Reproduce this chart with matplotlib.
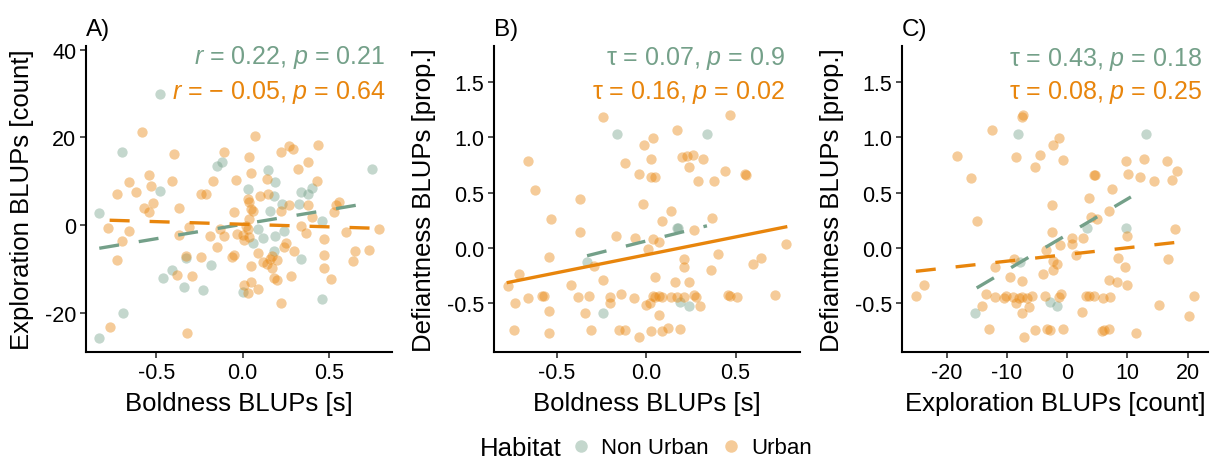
import numpy as np
import matplotlib
matplotlib.use("Agg")
import matplotlib.pyplot as plt
from matplotlib.lines import Line2D

plt.rcParams["font.family"] = ["Liberation Sans", "DejaVu Sans"]
plt.rcParams["mathtext.fontset"] = "custom"
plt.rcParams["mathtext.rm"] = "Liberation Sans"
plt.rcParams["mathtext.it"] = "Liberation Sans:italic"
plt.rcParams["axes.unicode_minus"] = False

GREEN = "#74A089"
ORANGE = "#E8850C"

# --- Panel A: boldness vs exploration ---
a_non_x = [-0.48, -0.70, -0.83, -0.48, -0.12, -0.15, 0.15, 0.03, 0.19, 0.18, 0.16, 0.23,
           0.09, 0.06, 0.19, 0.12, 0.24, 0.18, 0.34, 0.38, 0.40, 0.33, 0.46, 0.34, 0.75,
           0.46, -0.33, -0.41, -0.46, -0.34, -0.23, -0.18, 0.00, -0.69, -0.83]
a_non_y = [29.9, 16.6, 2.7, 7.7, 14.3, 13.4, 12.6, 8.2, 9.9, 6.7, 3.3, 4.8,
           -0.8, -4.0, -2.6, -3.0, -1.3, -5.9, 7.6, 7.1, 8.4, 4.8, 1.0, -7.8, 12.8,
           -16.8, -7.6, -10.2, -12.0, -14.1, -14.8, -9.1, -15.2, -20.0, -25.7]
a_urb_x = [-0.58, -0.40, -0.11, 0.07, 0.04, 0.05, 0.22, 0.27, 0.29, 0.38, 0.44, 0.32, 0.43,
           -0.04, -0.17, 0.14, -0.54, -0.66, -0.53, -0.41, -0.73, -0.62, -0.24, -0.21, 0.03,
           0.04, 0.05, 0.06, 0.10, 0.15, -0.52, -0.57, -0.54, -0.37, -0.05, 0.22, 0.27, 0.38,
           0.54, 0.56, 0.53, 0.40, 0.34, 0.04, 0.02, 0.03, 0.04, -0.13, -0.11, -0.19, -0.31,
           -0.37, -0.03, 0.00, 0.01, -0.15, 0.37, 0.47, 0.60, 0.79, -0.78, -0.66, -0.70,
           -0.73, -0.33, -0.24, -0.05, -0.06, 0.09, 0.17, 0.16, 0.14, 0.12, 0.20, 0.25, 0.24,
           0.30, 0.47, 0.47, 0.51, 0.65, 0.73, 0.64, 0.05, 0.17, 0.18, 0.20, 0.28, -0.38,
           -0.29, 0.05, 0.01, 0.03, 0.09, 0.22, -0.77, -0.32]
a_urb_y = [21.2, 16.2, 16.6, 20.3, 15.5, 12.0, 16.8, 18.0, 17.4, 14.5, 18.3, 12.8, 10.1,
           10.4, 10.1, 10.5, 11.5, 9.9, 9.0, 10.0, 7.1, 7.6, 7.2, 7.2, 5.9,
           5.2, 3.7, 3.3, 6.7, 7.1, 5.0, 3.9, 3.0, 4.0, 2.9, 3.3, 4.6, 4.6,
           4.6, 5.2, 3.0, 1.8, -0.2, 1.4, -0.2, -0.9, -2.8, -0.9, -2.4, -2.6, -0.5,
           -2.2, -2.1, -2.3, -3.4, -5.0, -1.9, -3.2, -1.5, -0.9, -0.7, -1.3, -3.6,
           -8.0, -7.0, -7.2, -6.8, -7.2, -6.4, -7.0, -7.8, -8.8, -8.5, -8.0, -4.0, -5.1,
           -6.0, -6.8, -9.9, -12.3, -5.9, -5.7, -8.3, -9.3, -9.9, -12.0, -12.5, -11.7, -11.4,
           -11.6, -13.0, -13.7, -15.6, -14.6, -17.9, -23.2, -24.7]

# --- Panel B: boldness vs defiantness ---
b_non_x = [-0.16, 0.34, 0.17, 0.18, -0.33, -0.24, 0.19, 0.24]
b_non_y = [1.03, 1.03, 0.18, 0.18, -0.13, -0.59, -0.49, -0.52]
b_urb_x = [-0.24, 0.47, 0.17, 0.04, -0.01, -0.66, -0.12, 0.03, 0.20, 0.23, 0.26, 0.24, 0.32,
           -0.04, 0.03, 0.05, 0.29, 0.38, 0.44, 0.55, 0.56, -0.62, -0.37, -0.02, 0.14, 0.09,
           0.37, -0.53, -0.37, -0.17, -0.06, 0.04, 0.07, 0.01, 0.27, -0.54, -0.29, -0.71,
           0.21, 0.21, 0.40, 0.36, 0.64, 0.60, 0.78, -0.77, -0.42, -0.24, 0.05, 0.16, 0.24,
           -0.73, -0.66, -0.58, -0.57, -0.38, -0.32, -0.20, -0.14, -0.07, -0.20, 0.00, 0.02,
           0.04, 0.05, 0.07, 0.09, 0.14, 0.17, 0.21, 0.27, 0.28, 0.30, 0.46, 0.47, 0.51, 0.72,
           -0.54, -0.34, 0.07, -0.74, -0.54, -0.31, -0.15, -0.12, -0.04, 0.03, 0.09, 0.12, 0.19]
b_urb_y = [1.18, 1.20, 1.06, 0.99, 0.93, 0.78, 0.77, 0.80, 0.82, 0.83, 0.84, 0.73, 0.80,
           0.67, 0.64, 0.64, 0.60, 0.60, 0.69, 0.67, 0.66, 0.52, 0.44, 0.40, 0.33, 0.24,
           0.27, 0.26, 0.14, 0.11, 0.09, 0.08, 0.05, -0.01, 0.16, -0.08, -0.16, -0.23,
           -0.10, -0.17, -0.05, -0.20, -0.09, -0.14, 0.04, -0.34, -0.33, -0.29, -0.26, -0.31, -0.31,
           -0.50, -0.45, -0.43, -0.43, -0.44, -0.43, -0.44, -0.41, -0.45, -0.50, -0.51, -0.50,
           -0.43, -0.44, -0.43, -0.44, -0.44, -0.44, -0.44, -0.42, -0.44, -0.52, -0.42, -0.43, -0.44, -0.42,
           -0.57, -0.59, -0.60, -0.74, -0.77, -0.74, -0.74, -0.74, -0.80, -0.75, -0.75, -0.72, -0.73]

# --- Panel C: exploration vs defiantness ---
c_non_x = [-8.1, 13.1, 3.3, 9.8, -7.8, -15.2, -2.8, -1.6]
c_non_y = [1.03, 1.03, 0.18, 0.18, -0.13, -0.59, -0.49, -0.52]
c_urb_x = [-7.3, -7.4, -12.5, -1.3, -2.4, -18.3, -8.5, -4.5, -0.7, -5.3, -15.9, 4.4, 4.6, 9.8,
           10.2, 12.7, 12.1, 14.5, 16.6, 18.3, 17.4, 7.4, 3.7, -2.5, 7.0, 3.9, 4.9, -15.0,
           -2.5, 0.9, 2.6, 0.9, -1.2, -3.5, 1.5, 17.9, 9.9, 8.5, 9.6, 16.8, -8.8, -12.0,
           -2.3, -1.7, -2.3, -4.0, -9.5, -7.4, 7.0, 8.3, 9.9, -23.7, -25.1, -13.5, -12.0,
           -10.5, -10.1, -8.9, -7.9, -7.4, -5.9, -6.7, -3.7, -1.4, -1.0, -8.5, -6.3, -14.2,
           3.1, 3.7, 4.5, 5.9, 7.1, 2.5, 15.3, 21.1, 20.3, -7.4, -13.0, -7.1, -5.3, -3.4,
           -2.8, -0.7, 5.8, 6.2, 7.0, 11.4]
c_urb_y = [1.20, 1.18, 1.06, 0.99, 0.93, 0.83, 0.82, 0.84, 0.79, 0.73, 0.63, 0.66, 0.66, 0.78,
           0.67, 0.80, 0.64, 0.60, 0.78, 0.69, 0.61, 0.53, 0.45, 0.39, 0.33, 0.28, 0.26, 0.24,
           0.14, 0.09, 0.09, 0.04, 0.03, -0.02, -0.06, 0.17, 0.11, -0.09, -0.17, -0.10, -0.10, -0.17,
           -0.12, -0.14, -0.20, -0.23, -0.26, -0.30, -0.29, -0.31, -0.33, -0.33, -0.43, -0.41, -0.44,
           -0.45, -0.43, -0.44, -0.45, -0.44, -0.43, -0.45, -0.43, -0.44, -0.41, -0.50, -0.53, -0.52,
           -0.43, -0.43, -0.43, -0.45, -0.44, -0.58, -0.51, -0.43, -0.61, -0.59, -0.73, -0.80, -0.74, -0.73,
           -0.74, -0.73, -0.75, -0.74, -0.73, -0.77]

# fitted regression lines: (x0, x1), (y0, y1)
a_non_fit = ([-0.83, 0.67], [-5.3, 4.6])
a_urb_fit = ([-0.77, 0.74], [1.1, -0.7])
b_non_fit = ([-0.33, 0.34], [-0.07, 0.20])
b_urb_fit = ([-0.77, 0.78], [-0.31, 0.19])
c_non_fit = ([-15.0, 10.6], [-0.36, 0.46])
c_urb_fit = ([-25.1, 18.0], [-0.21, 0.05])

a_stats = [r"$\mathit{r}$ = 0.22, $\mathit{p}$ = 0.21", r"$\mathit{r}$ = − 0.05, $\mathit{p}$ = 0.64"]
b_stats = [r"τ = 0.07, $\mathit{p}$ = 0.9", r"τ = 0.16, $\mathit{p}$ = 0.02"]
c_stats = [r"τ = 0.43, $\mathit{p}$ = 0.18", r"τ = 0.08, $\mathit{p}$ = 0.25"]

panels = [
    dict(label="A)", non=(a_non_x, a_non_y), urb=(a_urb_x, a_urb_y),
         fits=(a_non_fit, a_urb_fit), styles=("dash", "dash"), stats=a_stats,
         xlim=(-0.907, 0.866), ylim=(-29.0, 40.9), xticks=[-0.5, 0.0, 0.5],
         yticks=[-20, 0, 20, 40], xfmt="{:.1f}", yfmt="{:.0f}",
         xlab="Boldness BLUPs [s]", ylab="Exploration BLUPs [count]",
         tx=0.826, ty=(38.4, 30.4), left=86),
    dict(label="B)", non=(b_non_x, b_non_y), urb=(b_urb_x, b_urb_y),
         fits=(b_non_fit, b_urb_fit), styles=("dash", "solid"), stats=b_stats,
         xlim=(-0.85, 0.86), ylim=(-0.937, 1.82), xticks=[-0.5, 0.0, 0.5],
         yticks=[-0.5, 0.0, 0.5, 1.0, 1.5], xfmt="{:.1f}", yfmt="{:.1f}",
         xlab="Boldness BLUPs [s]", ylab="Defiantness BLUPs [prop.]",
         tx=0.777, ty=(1.72, 1.41), left=494),
    dict(label="C)", non=(c_non_x, c_non_y), urb=(c_urb_x, c_urb_y),
         fits=(c_non_fit, c_urb_fit), styles=("dash", "dash"), stats=c_stats,
         xlim=(-27.4, 23.4), ylim=(-0.937, 1.82), xticks=[-20, -10, 0, 10, 20],
         yticks=[-0.5, 0.0, 0.5, 1.0, 1.5], xfmt="{:.0f}", yfmt="{:.1f}",
         xlab="Exploration BLUPs [count]", ylab="Defiantness BLUPs [prop.]",
         tx=22.4, ty=(1.71, 1.41), left=902),
]

W, H = 1224, 460
fig = plt.figure(figsize=(W / 100, H / 100), dpi=100)

for p in panels:
    ax = fig.add_axes([p["left"] / W, (H - 353) / H, 306 / W, 306 / H])
    ax.scatter(*p["non"], s=55, color=GREEN, alpha=0.42, linewidths=0, zorder=2)
    ax.scatter(*p["urb"], s=55, color=ORANGE, alpha=0.42, linewidths=0, zorder=2)
    for fit, col, st in zip(p["fits"], (GREEN, ORANGE), p["styles"]):
        if st == "dash":
            ax.plot(fit[0], fit[1], color=col, lw=2.4, dashes=(6, 6), zorder=3)
        else:
            ax.plot(fit[0], fit[1], color=col, lw=2.4, zorder=3)
    for txt, y, col in zip(p["stats"], p["ty"], (GREEN, ORANGE)):
        ax.text(p["tx"], y, txt, color=col, fontsize=18, ha="right", va="center")

    ax.set_xlim(*p["xlim"])
    ax.set_ylim(*p["ylim"])
    ax.set_xticks(p["xticks"])
    ax.set_yticks(p["yticks"])
    ax.set_xticklabels([p["xfmt"].format(v) for v in p["xticks"]])
    ax.set_yticklabels([p["yfmt"].format(v) for v in p["yticks"]])
    ax.tick_params(labelsize=15.5, length=4, width=1.1, color="#222222", pad=3)
    for s in ("top", "right"):
        ax.spines[s].set_visible(False)
    for s in ("left", "bottom"):
        ax.spines[s].set_linewidth(1.5)
    ax.set_xlabel(p["xlab"], fontsize=18.5, labelpad=6)
    ax.set_ylabel(p["ylab"], fontsize=18.5, labelpad=8)
    fig.text(p["left"] / W, 1 - 30 / H, p["label"], fontsize=17.5, ha="left", va="center")

# legend
fig.text(480 / W, 1 - 449 / H, "Habitat", fontsize=18.5, ha="left", va="center")
handles = [Line2D([], [], ls="none", marker="o", ms=9, mec="none", mfc=GREEN, alpha=0.42),
           Line2D([], [], ls="none", marker="o", ms=9, mec="none", mfc=ORANGE, alpha=0.42)]
fig.legend(handles, ["Non Urban", "Urban"], loc="center left",
           bbox_to_anchor=(570 / W, 1 - 449 / H), ncol=2, frameon=False,
           fontsize=16, handlelength=1.0, handletextpad=0.4, columnspacing=0.5,
           borderpad=0, borderaxespad=0)

fig.savefig("out.png", dpi=100)
